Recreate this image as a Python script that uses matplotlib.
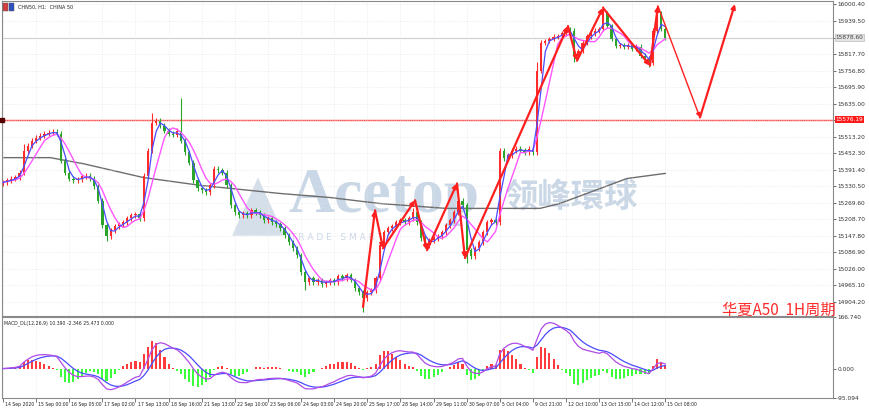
import numpy as np
import pandas as pd
import matplotlib
matplotlib.use("Agg")
import matplotlib.pyplot as plt
import matplotlib.transforms as mtransforms
from matplotlib.patches import Rectangle, Polygon

closes = [
    15345, 15352, 15359, 15363, 15381, 15462, 15480, 15499, 15510, 15517,
    15524, 15528, 15532, 15524, 15425, 15381, 15359, 15352, 15356, 15367,
    15370, 15359, 15330, 15278, 15187, 15146, 15168, 15183, 15190, 15198,
    15212, 15223, 15227, 15212, 15370, 15462, 15565, 15572, 15554, 15536,
    15524, 15521, 15536, 15499, 15455, 15418, 15352, 15323, 15315, 15308,
    15334, 15396, 15389, 15381, 15334, 15260, 15234, 15223, 15231, 15223,
    15242, 15234, 15223, 15205, 15212, 15198, 15190, 15176, 15150, 15124,
    15102, 15076, 15014, 14977, 14992, 14977, 14985, 14970, 14977, 14985,
    14977, 14999, 14992, 15003, 14985, 14955, 14940, 14918, 14940, 14948,
    14992, 15113, 15161, 15176, 15183, 15198, 15205, 15198, 15212, 15234,
    15198, 15139, 15113, 15131, 15139, 15146, 15161, 15187, 15205, 15234,
    15278, 15260, 15095, 15073, 15102, 15124, 15161, 15198, 15205, 15198,
    15462, 15433, 15444, 15462, 15469, 15462, 15455, 15469, 15455, 15756,
    15859, 15866, 15873, 15881, 15884, 15895, 15910, 15903, 15811, 15829,
    15859, 15884, 15895, 15903, 15910, 15969, 15921, 15873, 15848, 15851,
    15844, 15851, 15837, 15844, 15811, 15800, 15785, 15903, 15969, 15910,
    15877,
]
first_open = 15340
spike_high = {5: 15485, 36: 15600, 43: 15657, 99: 15252, 110: 15300,
              129: 15790, 145: 15995, 158: 15998}
spike_low = {25: 15128, 73: 14950, 87: 14867, 112: 15047, 138: 15790,
             156: 15770}

# long moving average (grey) read at a few bars
grey_idx = [0, 11.4, 19.3, 33.8, 47.6, 66.9, 79, 91, 107, 129.7, 134.5, 150.7, 160]
grey_val = [15436, 15436, 15414, 15363, 15334, 15304, 15289, 15267, 15249,
            15249, 15267, 15359, 15378]

# hand-drawn red zigzag (bar index, price)
zig_idx = [86.96, 89.86, 91.79, 99.52, 102.42, 109.66, 111.59, 136.47,
           138.65, 144.93, 156.28, 158.21, 168.36, 176.81]
zig_val = [14886, 15242, 15102, 15279, 15095, 15341, 15066, 15921,
           15793, 15988, 15775, 15995, 15584, 16002]

level_price = 15576.19
bid_price = 15878.60

price_ticks = [16000.4 - 60.9 * k for k in range(19)]
time_labels = ["14 Sep 2020", "15 Sep 00:00", "16 Sep 05:00", "17 Sep 02:00",
               "17 Sep 13:00", "18 Sep 16:00", "21 Sep 13:00", "22 Sep 10:00",
               "23 Sep 06:00", "24 Sep 03:00", "24 Sep 20:00", "25 Sep 17:00",
               "28 Sep 14:00", "29 Sep 11:00", "30 Sep 07:00", "5 Oct 04:00",
               "9 Oct 21:00", "12 Oct 10:00", "13 Oct 15:00", "14 Oct 12:00",
               "15 Oct 08:00"]
time_pos = [8 * k for k in range(len(time_labels))]

UP = "#ff2a2a"
DOWN = "#2aa52a"
YFS = 4.2
XFS = 3.3

c = np.array(closes, float)
o = np.r_[first_open, c[:-1]]
hi = np.maximum(o, c) + 9
lo = np.minimum(o, c) - 9
for k, v in spike_high.items():
    hi[k] = v
for k, v in spike_low.items():
    lo[k] = v
idx = np.arange(len(c))
s = pd.Series(c)
ma_fast = s.rolling(3, min_periods=1).mean()
ma_slow = s.rolling(6, min_periods=1).mean()
ema_f = s.ewm(span=6, adjust=False).mean()
ema_s = s.ewm(span=13, adjust=False).mean()
macd = ema_f - ema_s
signal = macd.ewm(span=5, adjust=False).mean()
hist = 2 * (macd - signal)

fig = plt.figure(figsize=(8.7, 4.11), dpi=100)
ax = fig.add_axes([2 / 870, 1 - 316 / 411, 831 / 870, 315 / 411])
ax2 = fig.add_axes([2 / 870, 1 - 398 / 411, 831 / 870, 81 / 411])
xlim = (-0.25, 200.5)

# watermark
wm = "#cad7e6"
ax.text(0.345, 0.378, "Acetop", transform=ax.transAxes, fontsize=46,
        family="Liberation Serif", fontweight="bold", color=wm, va="center",
        ha="left", zorder=0.5)
ax.text(0.604, 0.375, "领峰環球", transform=ax.transAxes, fontsize=24,
        family=["Noto Sans CJK SC", "DejaVu Sans"], fontweight="bold",
        color=wm, va="center", ha="left", zorder=0.5)
ax.text(0.347, 0.25, "T R A D E   S M A R T", transform=ax.transAxes,
        fontsize=6.5, color=wm, va="center", ha="left", zorder=0.5)
ax.add_patch(Polygon([[0.277, 0.255], [0.308, 0.44], [0.340, 0.255]],
                     closed=True, transform=ax.transAxes, facecolor="#d5dfea",
                     edgecolor="none", zorder=0.5))

# main panel
ax.axhline(bid_price, color="#c8c8c8", lw=0.8, zorder=1)
ax.axhline(level_price, color="#ff4d4d", lw=1.0, zorder=1)
ax.plot(grey_idx, grey_val, color="#6e6e6e", lw=1.0, zorder=1.5)
cols = np.where(c >= o, UP, DOWN)
ax.vlines(idx, lo, hi, colors=cols, lw=0.8, zorder=2)
body_b = np.minimum(o, c)
body_h = np.maximum(np.abs(c - o), 3)
ax.bar(idx, body_h, bottom=body_b, width=0.55, color=cols, lw=0, zorder=2)
ax.plot(idx, ma_slow, color="#ff55ff", lw=1.0, zorder=3)
ax.plot(idx, ma_fast, color="#4b4bff", lw=0.9, zorder=3)

for k in range(len(zig_idx) - 1):
    lw = 1.0 if k == len(zig_idx) - 3 else 1.6
    ax.annotate("", xy=(zig_idx[k + 1], zig_val[k + 1]),
                xytext=(zig_idx[k], zig_val[k]),
                arrowprops=dict(arrowstyle="-|>", color="#ff1f1f", lw=lw,
                                mutation_scale=6, shrinkA=0, shrinkB=0),
                zorder=4)

ax.set_xlim(*xlim)
ax.set_ylim(14852.5, 16013.2)
ax.yaxis.tick_right()
ax.set_yticks(price_ticks)
# labels under the two price boxes are hidden, as on the terminal
ax.set_yticklabels(["" if (abs(v - level_price) < 20 or abs(v - bid_price) < 20)
                    else f"{v:.2f}" for v in price_ticks], fontsize=YFS)
ax.set_xticks(time_pos)
ax.set_xticklabels([])
ax.tick_params(axis="y", length=2, width=0.5, pad=1, colors="#333333")
ax.tick_params(axis="x", length=0)
ax.grid(True, color="#e4e4e4", ls=":", lw=0.5)
for sp in ax.spines.values():
    sp.set_color("#8a8a8a")
    sp.set_linewidth(0.8)

# price boxes on the axis
bl = mtransforms.blended_transform_factory(ax.transAxes, ax.transData)
ax.text(1.003, level_price, f"{level_price:.2f}", fontsize=YFS, color="white",
        va="center", ha="left", transform=bl,
        bbox=dict(boxstyle="square,pad=0.15", fc="#ff1a1a", ec="none"))
ax.text(1.003, bid_price, f"{bid_price:.2f}", fontsize=YFS, color="#444444",
        va="center", ha="left", transform=bl,
        bbox=dict(boxstyle="square,pad=0.15", fc="#e4e4e4", ec="#b0b0b0", lw=0.4))
ax.plot([0.0], [level_price], marker="s", ms=2.2, color="#550000",
        transform=bl, clip_on=False, zorder=5)

# header
fig.patches.append(Rectangle((3 / 870, 1 - 11 / 411), 5 / 870, 8 / 411,
                             transform=fig.transFigure, fc="#d04040", ec="#555555", lw=0.3))
fig.patches.append(Rectangle((9 / 870, 1 - 11 / 411), 5 / 870, 8 / 411,
                             transform=fig.transFigure, fc="#3050c0", ec="#555555", lw=0.3))
fig.text(18 / 870, 1 - 7 / 411, "CHN50, H1:  CHINA 50", fontsize=3.5,
         va="center", ha="left", color="#222222")
fig.text(722 / 870, 1 - 310 / 411, "华夏A50  1H周期", fontsize=11,
         family=["Noto Sans CJK SC", "DejaVu Sans"], color="#ff2a2a",
         va="center", ha="left")

# MACD panel
hcols = np.where(hist >= 0, "#ff3b3b", "#3bff3b")
ax2.bar(idx, hist, width=0.5, color=hcols, lw=0, zorder=2)
ax2.plot(idx, signal, color="#4b4bff", lw=0.9, zorder=3)
ax2.plot(idx, macd, color="#b04ae6", lw=0.9, zorder=3)
ax2.set_xlim(*xlim)
ax2.set_ylim(-95.094, 166.74)
ax2.yaxis.tick_right()
ax2.set_yticks([166.74, 0.0, -95.094])
ax2.set_yticklabels(["166.740", "0.000", "-95.094"], fontsize=YFS)
ax2.tick_params(axis="y", length=2, width=0.5, pad=1, colors="#333333")
ax2.set_xticks(time_pos)
ax2.set_xticklabels([])
ax2.tick_params(axis="x", length=3, width=0.5, direction="out", colors="#444444")
ax2.grid(True, axis="x", color="#e4e4e4", ls=":", lw=0.5)
for sp in ax2.spines.values():
    sp.set_color("#8a8a8a")
    sp.set_linewidth(0.8)
ax2.text(0.002, 0.93, "MACD_DL(12,26,9) 10.390 -2.346 25.473 0.000",
         transform=ax2.transAxes, fontsize=3.3, va="center", ha="left",
         color="#222222")

bt = mtransforms.blended_transform_factory(ax2.transData, ax2.transAxes)
for p, lab in zip(time_pos, time_labels):
    ax2.text(p + 0.5, -0.05, lab, transform=bt, fontsize=XFS, va="top",
             ha="left", color="#222222")

fig.savefig("out.png", dpi=100)
